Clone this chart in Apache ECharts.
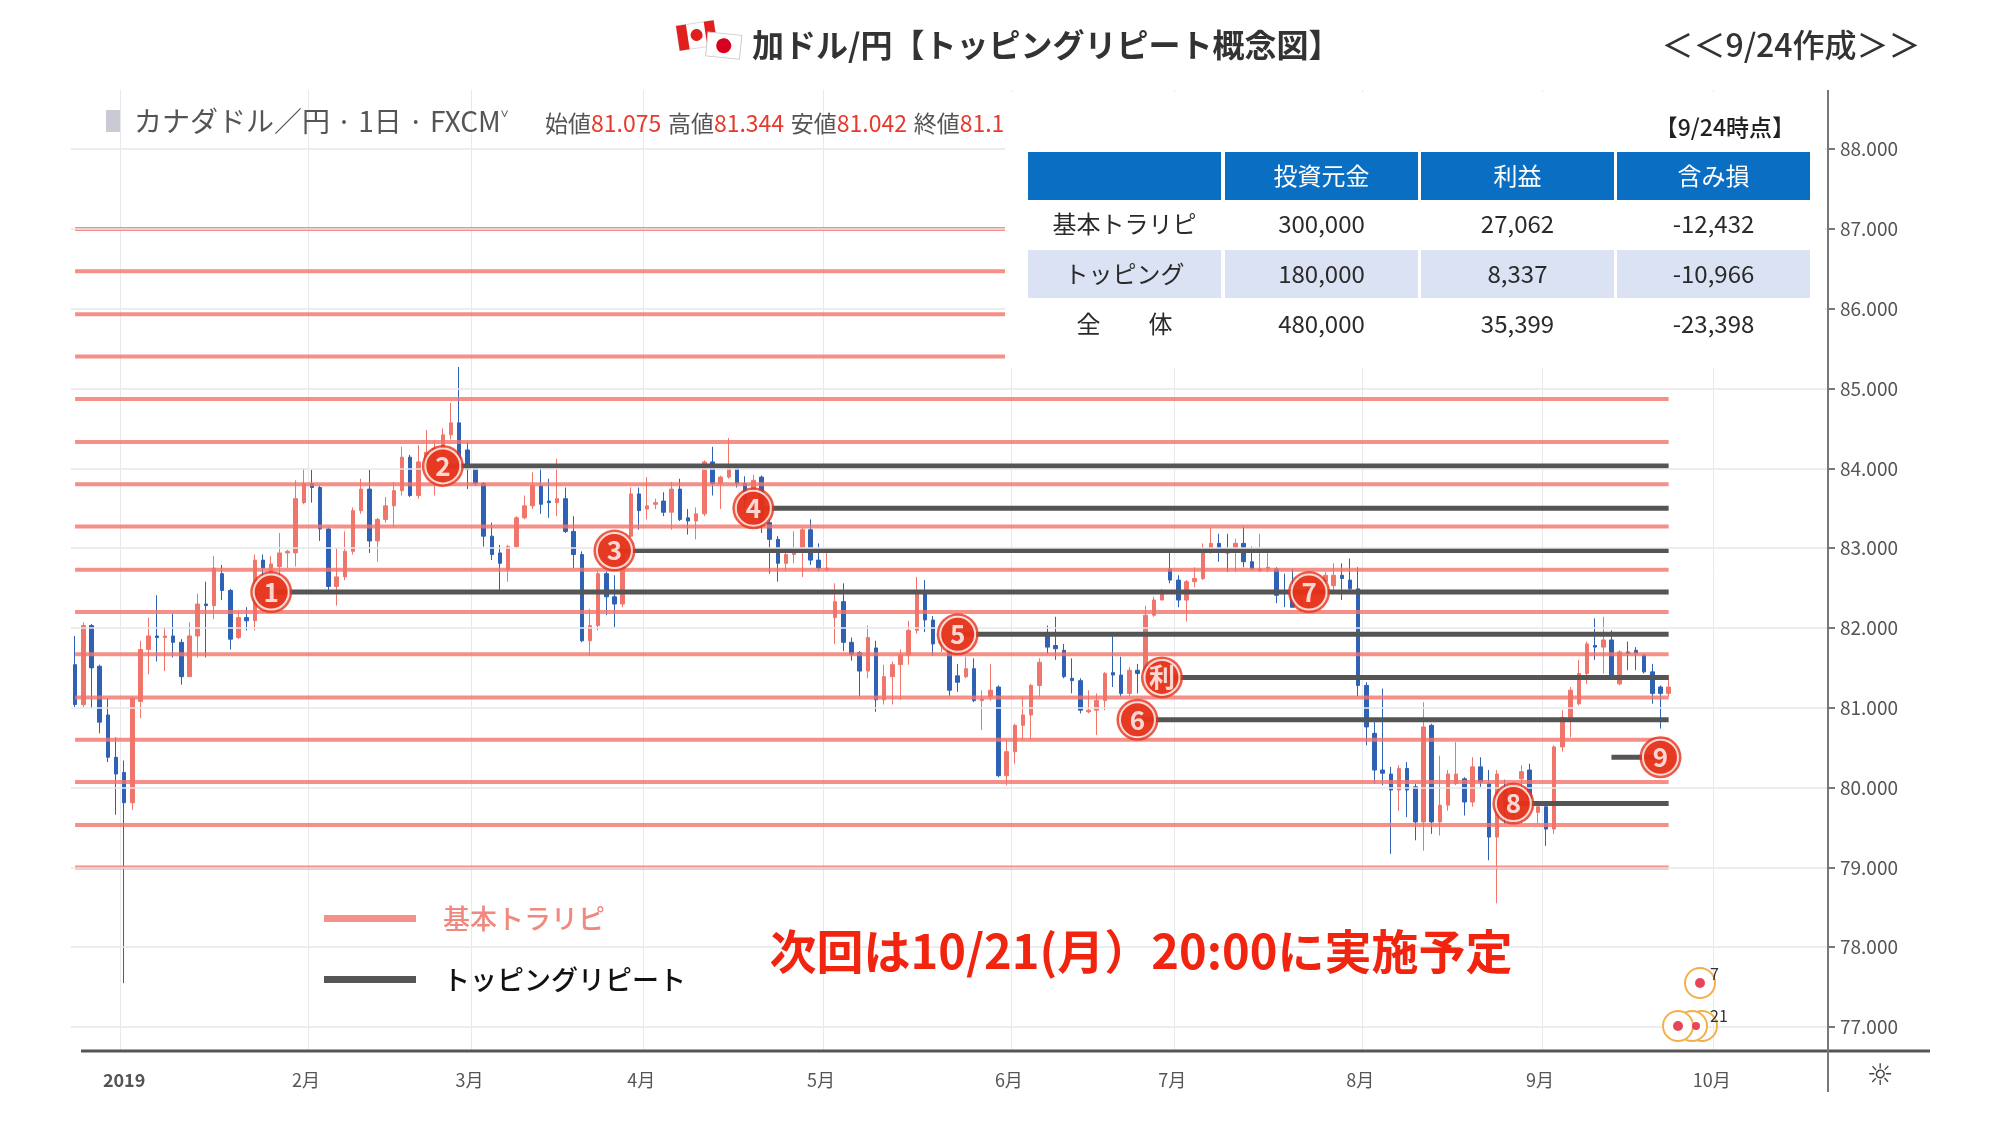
<!DOCTYPE html>
<html>
<head>
<meta charset="utf-8">
<script src="https://cdn.jsdelivr.net/npm/echarts@6/dist/echarts.min.js"></script>
<style>
  html, body { margin: 0; padding: 0; background: #fff; }
  #chart { width: 2004px; height: 1121px; }
</style>
</head>
<body>
<div id="chart"></div>
<script>
const FONT = '"Noto Sans CJK JP", "Noto Sans", sans-serif';

// 日足 [始値, 終値, 安値, 高値]
const candles = [
  [81.54,81.04,81.01,81.90],[81.04,82.03,81.01,82.07],[82.03,81.50,80.99,82.05],[81.52,80.82,80.68,81.54],
  [80.91,80.38,80.32,81.12],[80.38,80.17,79.66,80.63],[80.19,79.81,77.55,80.34],[79.81,81.12,79.72,81.14],
  [81.08,81.73,80.87,81.84],[81.73,81.90,81.42,82.13],[81.90,81.88,81.58,82.41],[81.88,81.90,81.46,82.01],
  [81.90,81.82,81.63,82.18],[81.82,81.39,81.29,81.86],[81.39,81.90,81.39,82.07],[81.90,82.30,81.63,82.43],
  [82.30,82.28,81.63,82.58],[82.28,82.75,82.11,82.90],[82.68,82.47,82.35,82.79],[82.47,81.86,81.73,82.49],
  [81.88,82.13,81.86,82.22],[82.13,82.09,81.97,82.26],[82.09,82.85,81.97,82.92],[82.85,82.75,82.60,82.92],
  [82.70,82.80,82.55,82.90],[82.77,82.94,82.64,83.19],[82.94,82.96,82.75,82.98],[82.94,83.62,82.77,83.85],
  [83.57,83.81,83.55,84.00],[83.81,83.76,83.57,83.98],[83.76,83.24,83.09,83.78],[83.24,82.52,82.43,83.26],
  [82.52,82.64,82.28,83.00],[82.64,82.96,82.60,83.21],[82.96,83.47,82.92,83.51],[83.47,83.74,83.43,83.87],
  [83.74,83.09,82.94,83.98],[83.09,83.36,82.83,83.38],[83.36,83.53,83.32,83.64],[83.53,83.72,83.26,83.83],
  [83.72,84.14,83.66,84.27],[84.14,83.66,83.64,84.17],[83.66,84.08,83.62,84.29],[84.08,84.20,83.98,84.48],
  [84.20,84.25,83.66,84.35],[84.17,84.42,83.78,84.50],[84.42,84.57,84.36,84.82],[84.57,84.12,84.10,85.27],
  [84.23,83.99,83.74,84.33],[84.00,83.81,83.78,84.04],[83.81,83.15,83.02,83.83],[83.15,82.92,82.85,83.32],
  [82.94,82.81,82.43,83.04],[82.73,83.02,82.58,83.04],[83.02,83.38,83.00,83.40],[83.38,83.53,83.36,83.66],
  [83.53,83.78,83.49,83.95],[83.78,83.55,83.43,84.04],[83.59,83.57,83.38,83.87],[83.57,83.62,83.40,84.12],
  [83.62,83.21,83.19,83.76],[83.21,82.92,82.75,83.40],[82.92,81.84,81.82,82.96],[81.84,82.03,81.65,82.24],
  [82.03,82.68,81.97,82.71],[82.68,82.39,82.16,82.71],[82.39,82.30,82.01,82.66],[82.30,82.98,82.26,83.00],
  [83.15,83.68,83.13,83.76],[83.68,83.47,83.23,83.76],[83.49,83.53,83.36,83.89],[83.55,83.57,83.49,83.62],
  [83.59,83.45,83.40,83.70],[83.45,83.74,83.23,83.83],[83.74,83.36,83.34,83.87],[83.38,83.34,83.17,83.49],
  [83.34,83.43,83.11,83.51],[83.43,84.08,83.40,84.10],[84.08,83.81,83.66,84.27],[83.81,83.89,83.49,83.91],
  [83.89,84.02,83.87,84.38],[84.02,83.81,83.76,84.04],[83.81,83.60,83.50,83.90],[83.70,83.85,83.60,83.92],
  [83.89,83.32,83.19,83.91],[83.32,83.11,82.68,83.36],[83.11,82.81,82.58,83.15],[82.81,82.92,82.71,82.96],
  [82.92,83.00,82.81,83.21],[83.00,83.23,82.64,83.26],[83.23,82.85,82.79,83.36],[82.85,82.75,82.71,83.06],
  [82.73,82.75,82.71,83.00],[82.13,82.33,81.80,82.56],[82.33,81.82,81.71,82.56],[81.82,81.67,81.59,81.88],
  [81.69,81.46,81.14,81.71],[81.46,81.88,81.37,82.03],[81.75,81.10,80.95,81.84],[81.10,81.39,81.04,81.54],
  [81.39,81.54,81.04,81.58],[81.54,81.66,81.10,81.73],[81.66,81.97,81.54,82.09],[81.97,82.45,81.93,82.64],
  [82.45,82.10,81.95,82.60],[82.10,81.80,81.65,82.15],[81.80,81.90,81.70,81.95],[81.72,81.22,81.15,81.75],
  [81.40,81.32,81.20,81.55],[81.39,81.49,81.37,81.64],[81.49,81.09,81.07,81.62],[81.09,81.11,80.72,81.22],
  [81.14,81.22,81.09,81.55],[81.26,80.15,80.13,81.28],[80.15,80.45,80.03,80.59],[80.45,80.78,80.30,80.80],
  [80.78,80.91,80.59,81.14],[80.91,81.28,80.59,81.30],[81.28,81.57,81.14,81.62],[81.93,81.76,81.68,82.03],
  [81.78,81.74,81.60,82.14],[81.72,81.39,81.37,81.80],[81.37,81.34,81.18,81.62],[81.34,80.97,80.93,81.37],
  [80.95,80.97,80.93,81.22],[80.97,81.09,80.66,81.18],[81.09,81.43,80.97,81.45],[81.44,81.41,81.26,81.91],
  [81.41,81.18,81.14,81.64],[81.18,81.47,81.14,81.51],[81.47,81.43,81.18,81.55],[81.45,82.16,81.40,82.28],
  [82.16,82.35,82.14,82.39],[82.35,82.45,82.35,82.49],[82.74,82.60,82.56,82.95],[82.60,82.35,82.26,82.66],
  [82.35,82.58,82.08,82.60],[82.58,82.62,82.51,82.76],[82.62,82.95,82.60,83.06],[82.95,83.06,82.93,83.25],
  [83.06,82.95,82.83,83.18],[82.97,82.94,82.70,83.18],[82.95,83.06,82.70,83.12],[83.06,82.83,82.76,83.27],
  [82.83,82.74,82.72,83.02],[82.72,82.74,82.70,83.18],[82.74,82.76,82.70,82.99],[82.74,82.41,82.31,82.76],
  [82.47,82.43,82.26,82.68],[82.43,82.26,82.26,82.74],[82.26,82.35,82.20,82.45],[82.35,82.45,82.25,82.55],
  [82.45,82.55,82.40,82.65],[82.58,82.66,82.47,82.70],[82.53,82.66,82.43,82.81],[82.66,82.62,82.35,82.81],
  [82.60,82.49,82.45,82.87],[82.49,81.28,81.14,82.76],[81.28,80.76,80.53,81.32],[80.68,80.22,80.05,80.82],
  [80.22,80.18,80.03,81.24],[80.17,79.97,79.17,80.26],[79.97,80.24,79.71,80.28],[80.24,79.97,79.63,80.32],
  [80.01,79.57,79.34,80.05],[79.57,80.76,79.21,81.07],[80.78,79.57,79.42,80.80],[79.57,79.78,79.40,80.40],
  [79.78,80.17,79.71,80.22],[80.05,80.17,80.03,80.57],[80.11,79.82,79.65,80.13],[79.82,80.26,79.76,80.38],
  [80.26,80.07,80.01,80.38],[80.05,79.38,79.09,80.22],[79.38,80.17,78.55,80.22],[80.00,79.75,79.55,80.10],
  [79.75,79.95,79.55,80.00],[80.11,80.20,79.55,80.28],[80.22,79.86,79.82,80.30],[79.69,79.76,79.55,79.78],
  [79.76,79.48,79.27,79.80],[79.48,80.51,79.42,80.53],[80.51,80.88,80.45,80.97],[80.88,81.22,80.63,81.26],
  [81.05,81.43,81.03,81.60],[81.43,81.80,81.30,81.83],[81.78,81.76,81.60,82.12],[81.76,81.85,81.43,82.14],
  [81.85,81.39,81.37,81.97],[81.30,81.70,81.28,81.72],[81.70,81.68,81.47,81.83],[81.72,81.68,81.47,81.76],
  [81.66,81.45,81.43,81.68],[81.45,81.18,81.05,81.55],[81.26,81.18,80.74,81.28],[81.18,81.26,81.14,81.41]
];

// 基本トラリピの設定レート
const basicLevels = [79.00, 79.53, 80.07, 80.60, 81.13, 81.67, 82.20, 82.73,
                     83.27, 83.80, 84.33, 84.87, 85.40, 85.93, 86.47, 87.00];

// トッピングリピート
const toppingLevels = [84.03, 83.50, 82.97, 82.45, 81.92, 81.38, 80.85, 79.80, 80.38];
const toppingStarts = [45, 83, 66, 24, 108, 133, 130, 176, 188];
const toppingLabels = ['84.03 2月', '83.50 4月', '82.97 3月', '82.45 1月・7月', '81.92 5月',
                       '81.38 利益分', '80.85 6月', '79.80 8月', '80.38 9月'];

// 丸数字マーカー
const markerTexts = ['1', '2', '3', '4', '5', '利', '6', '7', '8', '9'];
const markerIdx = [24, 45, 66, 83, 108, 133, 130, 151, 176, 194];
const markerVals = [82.45, 84.03, 82.97, 83.50, 81.92, 81.38, 80.85, 82.45, 79.80, 80.38];

const yTicks = [77, 78, 79, 80, 81, 82, 83, 84, 85, 86, 87, 88];

const tableHead = ['', '投資元金', '利益', '含み損'];
const tableRows = [
  ['基本トラリピ', '300,000', '27,062', '-12,432'],
  ['トッピング', '180,000', '8,337', '-10,966'],
  ['全　　体', '480,000', '35,399', '-23,398']
];

// 営業日（平日）の日付
const days = [];
{
  const d = new Date(Date.UTC(2018, 11, 24));
  while (days.length < 215) {
    const wd = d.getUTCDay();
    if (wd !== 0 && wd !== 6) days.push(d.toISOString().slice(0, 10));
    d.setUTCDate(d.getUTCDate() + 1);
  }
}
const monthStart = new Set();
days.forEach((s, i) => { if (i > 0 && s.slice(5, 7) !== days[i - 1].slice(5, 7)) monthStart.add(i); });
const isMonthStart = (i) => monthStart.has(i);

const LAST = 195;
const series = [];

// 横グリッド線
series.push({
  type: 'line', data: [], z: 1, silent: true,
  markLine: {
    silent: true, symbol: 'none', label: { show: false },
    lineStyle: { color: '#e6e7ec', type: 'solid', width: 1.5 },
    data: yTicks.map(v => ({ yAxis: v }))
  }
});

series.push({
  name: 'ローソク足', type: 'candlestick', z: 2, barWidth: 4,
  data: candles,
  itemStyle: { color: '#f0766c', color0: '#2f62b5', borderColor: '#f0766c', borderColor0: '#2f62b5', borderWidth: 1 }
});

basicLevels.forEach(v => {
  series.push({
    name: '基本トラリピ', type: 'line', z: 3, symbol: 'none', silent: true,
    color: '#f4928a',
    lineStyle: { color: 'rgba(242,115,105,0.8)', width: 4 },
    data: [[0, v], [LAST, v]]
  });
});

toppingLevels.forEach((v, k) => {
  const red = k === 8;
  const endItem = {
    value: [LAST, v],
    label: {
      show: true, position: 'right', distance: 14, formatter: toppingLabels[k],
      fontFamily: FONT, fontSize: 21, fontWeight: 500, color: red ? '#ee2a12' : '#111'
    }
  };
  const data = red ? [[toppingStarts[k], v], [194, v], endItem] : [[toppingStarts[k], v], endItem];
  series.push({
    name: 'トッピングリピート', type: 'line', z: 4, symbol: 'none', silent: true,
    color: '#555',
    lineStyle: { color: '#555', width: 5 },
    data: data
  });
});

series.push({
  type: 'scatter', z: 5, silent: true, symbolSize: 42,
  itemStyle: { color: '#e63219' },
  data: markerIdx.map((x, i) => [x, markerVals[i]])
});
series.push({
  type: 'scatter', z: 6, silent: true, symbolSize: 35,
  itemStyle: { color: '#e63219', borderColor: '#fff', borderWidth: 2 },
  label: {
    show: true, position: 'inside', fontFamily: FONT, fontWeight: 'bold', fontSize: 26, color: '#fff',
    formatter: p => markerTexts[p.dataIndex]
  },
  data: markerIdx.map((x, i) => [x, markerVals[i]])
});

// 表（白背景で下の線を隠す）
const tableEls = [];
const colX = [1028, 1225, 1421, 1617];
const colW = 193;
const rowY = [152, 200, 250, 300];
const rowH = 48;
const TZ = { zlevel: 2, z: 100 };
tableEls.push({ type: 'rect', ...TZ, shape: { x: 1005, y: 92, width: 820, height: 276 }, style: { fill: '#fff' } });
tableHead.forEach((t, c) => {
  tableEls.push({ type: 'rect', ...TZ, shape: { x: colX[c], y: rowY[0], width: colW, height: rowH }, style: { fill: '#0a6fc2' } });
  tableEls.push({ type: 'text', ...TZ, x: colX[c] + colW / 2, y: rowY[0] + rowH / 2,
    style: { text: t, fill: '#fff', font: '24px ' + FONT, align: 'center', verticalAlign: 'middle' } });
});
tableRows.forEach((row, r) => {
  row.forEach((t, c) => {
    if (r === 1) {
      tableEls.push({ type: 'rect', ...TZ, shape: { x: colX[c], y: rowY[r + 1], width: colW, height: rowH }, style: { fill: '#dbe2f3' } });
    }
    tableEls.push({ type: 'text', ...TZ, x: colX[c] + colW / 2, y: rowY[r + 1] + rowH / 2,
      style: { text: t, fill: '#2a2a2a', font: '24px ' + FONT, align: 'center', verticalAlign: 'middle' } });
  });
});
tableEls.push({ type: 'text', ...TZ, x: 1795, y: 127, style: { text: '【9/24時点】', font: '500 23px ' + FONT, fill: '#222', align: 'right', verticalAlign: 'middle' } });

const chart = echarts.init(document.getElementById('chart'));
chart.setOption({
  animation: false,
  backgroundColor: '#fff',
  textStyle: { fontFamily: FONT },
  grid: { left: 71, right: 176, top: 90, bottom: 70 },
  legend: {
    left: 319, top: 900, orient: 'vertical', itemGap: 34, icon: 'rect',
    itemWidth: 92, itemHeight: 7, selectedMode: false,
    textStyle: { fontSize: 27, padding: [0, 0, 0, 22], fontFamily: FONT },
    data: [
      { name: '基本トラリピ', textStyle: { color: '#f0887e', fontWeight: 500 } },
      { name: 'トッピングリピート', textStyle: { color: '#111', fontWeight: 500 } }
    ]
  },
  xAxis: {
    type: 'category', data: days, boundaryGap: true,
    axisLine: { show: false }, axisTick: { show: false },
    axisLabel: {
      interval: isMonthStart, margin: 20, fontSize: 18, color: '#555', padding: [0, 12, 0, 0],
      formatter: (v) => {
        const m = +v.slice(5, 7);
        return m === 1 ? '{b|2019}' : m + '月';
      },
      rich: { b: { fontWeight: 'bold', fontSize: 18, color: '#555', padding: [0, 0, 0, 12] } }
    },
    splitLine: { show: true, interval: isMonthStart, lineStyle: { color: '#e8e9ee', width: 1 } }
  },
  yAxis: {
    type: 'value', position: 'right', min: 76.7, max: 88.74, scale: true,
    axisLine: { show: false },
    axisTick: { show: true, length: 7, customValues: yTicks, lineStyle: { color: '#777', width: 2 } },
    axisLabel: { customValues: yTicks, fontSize: 19, color: '#555', margin: 12, formatter: v => v.toFixed(3) },
    splitLine: { show: false }
  },
  series: series,
  graphic: [
    { type: 'line', z: 50, shape: { x1: 81, y1: 1051, x2: 1930, y2: 1051 }, style: { stroke: '#555', lineWidth: 3 } },
    { type: 'line', z: 50, shape: { x1: 1828, y1: 90, x2: 1828, y2: 1092 }, style: { stroke: '#777', lineWidth: 2 } },
    { type: 'text', z: 50, x: 1880, y: 1077, style: { text: '☼', font: '30px "DejaVu Sans"', fill: '#444', align: 'center', verticalAlign: 'middle' } },
    // ヘッダー
    { type: 'rect', z: 50, shape: { x: 106, y: 110, width: 14, height: 22 }, style: { fill: '#c9cad3' } },
    { type: 'text', z: 50, x: 134, y: 121, style: { text: 'カナダドル／円 · 1日 · FXCM˅', font: '28px ' + FONT, fill: '#555', verticalAlign: 'middle' } },
    { type: 'text', z: 50, x: 545, y: 123, style: {
      text: '{l|始値}{v|81.075}  {l|高値}{v|81.344}  {l|安値}{v|81.042}  {l|終値}{v|81.102}',
      verticalAlign: 'middle',
      rich: { l: { fontSize: 23, fill: '#555', fontFamily: FONT }, v: { fontSize: 23, fill: '#e53a2c', fontFamily: FONT } }
    } },
    ...tableEls,
    // タイトル
    { type: 'group', z: 50, x: 676, y: 26, rotation: 0.15, children: [
      { type: 'rect', shape: { x: 0, y: 0, width: 38, height: 25 }, style: { fill: '#fff', stroke: '#ddd' } },
      { type: 'rect', shape: { x: 0, y: 0, width: 10, height: 25 }, style: { fill: '#e0201c' } },
      { type: 'rect', shape: { x: 28, y: 0, width: 10, height: 25 }, style: { fill: '#e0201c' } },
      { type: 'circle', shape: { cx: 19, cy: 12, r: 6 }, style: { fill: '#e0201c' } }
    ] },
    { type: 'group', z: 50, x: 708, y: 32, rotation: -0.1, children: [
      { type: 'rect', shape: { x: 0, y: 0, width: 34, height: 24 }, style: { fill: '#fff', stroke: '#ccc' } },
      { type: 'circle', shape: { cx: 17, cy: 12, r: 7.5 }, style: { fill: '#d8001e' } }
    ] },
    { type: 'text', z: 50, x: 752, y: 45, style: { text: '加ドル/円【トッピングリピート概念図】', font: 'bold 32px ' + FONT, fill: '#333', verticalAlign: 'middle' } },
    { type: 'text', z: 50, x: 1791, y: 45, style: { text: '＜＜9/24作成＞＞', font: '500 32px ' + FONT, fill: '#333', align: 'center', verticalAlign: 'middle' } },
    // 予定
    { type: 'text', z: 50, x: 1141, y: 951, style: { text: '次回は10/21(月）20:00に実施予定', font: 'bold 47px ' + FONT, fill: '#f0240f', align: 'center', verticalAlign: 'middle' } },
    // イベントマーカー
    { type: 'circle', z: 50, shape: { cx: 1700, cy: 983, r: 15 }, style: { fill: '#fff', stroke: '#f3b04a', lineWidth: 2 } },
    { type: 'circle', z: 51, shape: { cx: 1700, cy: 983, r: 5 }, style: { fill: '#e8455a' } },
    { type: 'text', z: 51, x: 1710, y: 966, style: { text: '7', font: '16px ' + FONT, fill: '#333' } },
    { type: 'circle', z: 50, shape: { cx: 1702, cy: 1026, r: 15 }, style: { fill: 'none', stroke: '#f3b04a', lineWidth: 2 } },
    { type: 'circle', z: 50, shape: { cx: 1692, cy: 1026, r: 15 }, style: { fill: '#fff', stroke: '#f3b04a', lineWidth: 2 } },
    { type: 'circle', z: 51, shape: { cx: 1678, cy: 1026, r: 15 }, style: { fill: '#fff', stroke: '#f3b04a', lineWidth: 2 } },
    { type: 'circle', z: 52, shape: { cx: 1678, cy: 1026, r: 5 }, style: { fill: '#e8455a' } },
    { type: 'circle', z: 52, shape: { cx: 1696, cy: 1026, r: 4 }, style: { fill: '#e8455a' } },
    { type: 'text', z: 52, x: 1710, y: 1008, style: { text: '21', font: '16px ' + FONT, fill: '#333' } }
  ]
});
</script>
</body>
</html>
